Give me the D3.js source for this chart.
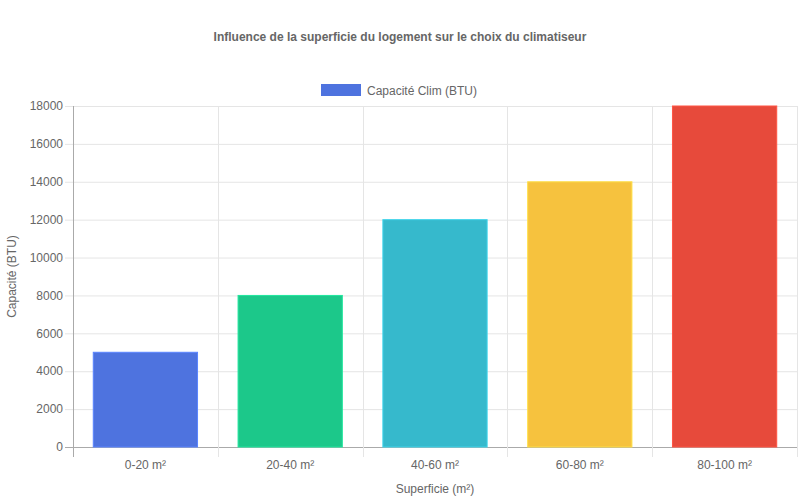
<!DOCTYPE html>
<html>
<head>
<meta charset="utf-8">
<script src="https://cdn.jsdelivr.net/npm/d3@7"></script>
<style>
  body { margin: 0; background: #fff; }
  svg { font-family: "Liberation Sans", Arial, Helvetica, sans-serif; }
</style>
</head>
<body>
<div id="chart"></div>
<script>
const categories = ['0-20 m²', '20-40 m²', '40-60 m²', '60-80 m²', '80-100 m²'];
const values = [5000, 8000, 12000, 14000, 18000];
const barColors = ['#4e73df', '#1cc88a', '#36b9cc', '#f6c23e', '#e74a3b'];
const yTicks = [0, 2000, 4000, 6000, 8000, 10000, 12000, 14000, 16000, 18000];
const seriesName = 'Capacité Clim (BTU)';

const W = 800, H = 500;
const margin = { top: 106, right: 3, bottom: 53, left: 73 };
const width = W - margin.left - margin.right;
const height = H - margin.top - margin.bottom;

const svg = d3.select('#chart').append('svg')
    .attr('width', W)
    .attr('height', H);

// title
svg.append('text')
    .attr('x', W / 2)
    .attr('y', 41)
    .attr('text-anchor', 'middle')
    .style('font-size', '12px')
    .style('font-weight', 'bold')
    .attr('fill', '#666')
    .text('Influence de la superficie du logement sur le choix du climatiseur');

// legend
const legend = svg.append('g').attr('transform', 'translate(321,84)');
legend.append('rect')
    .attr('width', 40).attr('height', 12)
    .attr('fill', barColors[0]);
legend.append('text')
    .attr('x', 46).attr('y', 10.5)
    .style('font-size', '12px')
    .attr('fill', '#666')
    .text(seriesName);

const g = svg.append('g')
    .attr('transform', `translate(${margin.left},${margin.top})`);

const x = d3.scaleBand()
    .domain(categories)
    .range([0, width])
    .paddingInner(0)
    .paddingOuter(0);

const y = d3.scaleLinear()
    .domain([0, 18000])
    .range([height, 0]);

// horizontal grid
g.append('g')
    .selectAll('line')
    .data(yTicks)
    .enter().append('line')
    .attr('x1', -8).attr('x2', width)
    .attr('y1', d => y(d) + 0.5).attr('y2', d => y(d) + 0.5)
    .attr('stroke', d => d === 0 ? '#aaa' : '#e5e5e5');

// vertical grid
const vLines = d3.range(categories.length + 1).map(i => i * x.step());
g.append('g')
    .selectAll('line')
    .data(vLines)
    .enter().append('line')
    .attr('x1', d => Math.round(d) + 0.5).attr('x2', d => Math.round(d) + 0.5)
    .attr('y1', 0).attr('y2', height + 10)
    .attr('stroke', (d, i) => i === 0 ? '#aaa' : '#e5e5e5');

// bars
const bw = x.bandwidth() * 0.72;
g.selectAll('.bar')
    .data(values)
    .enter().append('rect')
    .attr('class', 'bar')
    .attr('x', (d, i) => x(categories[i]) + (x.bandwidth() - bw) / 2)
    .attr('y', d => y(d))
    .attr('width', bw)
    .attr('height', d => height - y(d))
    .attr('fill', (d, i) => barColors[i])
    .attr('stroke', (d, i) => d3.color(barColors[i]).brighter(0.4))
    .attr('stroke-width', 1);

// y axis labels
g.append('g')
    .selectAll('text')
    .data(yTicks)
    .enter().append('text')
    .attr('x', -10)
    .attr('y', d => y(d))
    .attr('dy', '0.35em')
    .attr('text-anchor', 'end')
    .style('font-size', '12px')
    .attr('fill', '#666')
    .text(d => d);

// x axis labels
g.append('g')
    .selectAll('text')
    .data(categories)
    .enter().append('text')
    .attr('x', d => x(d) + x.bandwidth() / 2)
    .attr('y', height + 22)
    .attr('text-anchor', 'middle')
    .style('font-size', '12px')
    .attr('fill', '#666')
    .text(d => d);

// axis titles
svg.append('text')
    .attr('x', margin.left + width / 2)
    .attr('y', 493)
    .attr('text-anchor', 'middle')
    .style('font-size', '12px')
    .attr('fill', '#666')
    .text('Superficie (m²)');

svg.append('text')
    .attr('transform', `translate(16,${margin.top + height / 2}) rotate(-90)`)
    .attr('text-anchor', 'middle')
    .style('font-size', '12px')
    .attr('fill', '#666')
    .text('Capacité (BTU)');
</script>
</body>
</html>
